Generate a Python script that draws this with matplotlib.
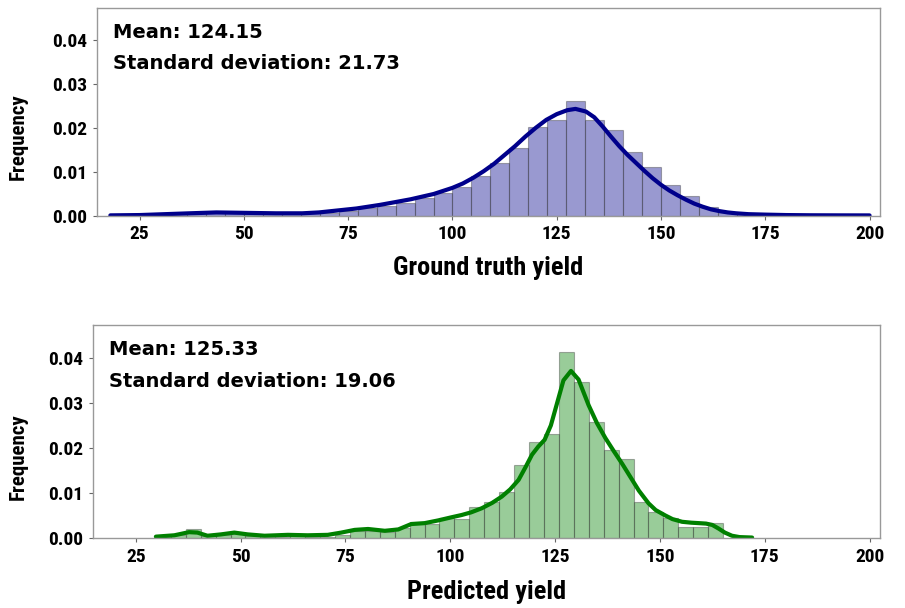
import numpy as np
import matplotlib
matplotlib.use("Agg")
import matplotlib.pyplot as plt
from matplotlib import font_manager

# ---------------- data ----------------
truth_mean_text = "Mean: 124.15"
truth_std_text = "Standard deviation: 21.73"
pred_mean_text = "Mean: 125.33"
pred_std_text = "Standard deviation: 19.06"

truth_xlabel = "Ground truth yield"
pred_xlabel = "Predicted yield"
ylabel = "Frequency"

x_ticks = [25, 50, 75, 100, 125, 150, 175, 200]
y_ticks = [0.00, 0.01, 0.02, 0.03, 0.04]

# Ground truth histogram (bin edges start / width, heights)
truth_bin_start = 18.3
truth_bin_width = 4.54
truth_heights = [0.0001, 0.0002, 0.0003, 0.0004, 0.0006, 0.0008, 0.0008, 0.0006,
                 0.0005, 0.0004, 0.0005, 0.0006, 0.0011, 0.0016, 0.0022, 0.0029,
                 0.0039, 0.0051, 0.0066, 0.0089, 0.0120, 0.0154, 0.0201, 0.0217,
                 0.0261, 0.0217, 0.0195, 0.0145, 0.0111, 0.0069, 0.0045, 0.0020,
                 0.0009, 0.0004, 0.0002, 0.0001, 0.0001, 0.00005, 0.00003, 0.00003]

# Ground truth KDE curve points
truth_kde_x = [18, 25, 31, 37, 43.4, 50.5, 57.7, 64, 68, 73, 77, 82.5, 86, 90,
               95.5, 100, 102.5, 105, 107.5, 110, 112.5, 115, 117.5, 120, 122.5,
               125, 127.5, 129.5, 132, 134, 136, 138, 140, 142, 144, 146, 148, 150,
               152, 154, 156, 158, 160, 162, 164, 166, 168, 171, 175, 180, 186, 193, 200]
truth_kde_y = [0.00003, 0.0001, 0.0003, 0.0005, 0.0007, 0.0006, 0.0005, 0.0005, 0.0007,
               0.0012, 0.0016, 0.0024, 0.0030, 0.0037, 0.0049, 0.0063, 0.0073, 0.0086,
               0.0101, 0.0118, 0.0138, 0.0158, 0.0180, 0.0200, 0.0218, 0.0231, 0.0240,
               0.0243, 0.0237, 0.0224, 0.0203, 0.0180, 0.0158, 0.0138, 0.0120, 0.0102,
               0.0085, 0.0070, 0.0057, 0.0046, 0.0036, 0.0027, 0.0020, 0.0014, 0.0010,
               0.0007, 0.0005, 0.0003, 0.0002, 0.0001, 0.00005, 0.00003, 0.00002]

# Predicted histogram
pred_bin_start = 29.8
pred_bin_width = 3.56
pred_heights = [0.0002, 0.0006, 0.0020, 0.0004, 0.0006, 0.0009, 0.0004, 0.0003,
                0.0003, 0.0004, 0.0003, 0.0003, 0.0006, 0.0015, 0.0016, 0.0013,
                0.0022, 0.0036, 0.0031, 0.0044, 0.0042, 0.0068, 0.0080, 0.0103,
                0.0163, 0.0213, 0.0231, 0.0414, 0.0347, 0.0257, 0.0196, 0.0176,
                0.0080, 0.0057, 0.0044, 0.0025, 0.0025, 0.0033]

# Predicted KDE curve points
pred_kde_x = [29.8, 34.2, 37.7, 39.7, 42.1, 45.3, 48.5, 51.7, 55.7, 61.3, 66.0,
              70.8, 74.0, 77.2, 80.4, 84.4, 87.6, 90.7, 93.9, 97.1, 100.3, 102.7,
              105, 107.5, 110, 112.3, 114.3, 116.3, 118, 119.5, 121, 122.5, 124,
              125.5, 127, 128.8, 130.6, 133, 135, 137, 139, 141, 143, 145, 147.3,
              149, 151.3, 153, 155.3, 157.5, 159.3, 161, 162.5, 164, 165.5, 167.2,
              169, 172.0]
pred_kde_y = [0.0003, 0.0006, 0.0013, 0.0012, 0.0005, 0.0008, 0.0012, 0.0008, 0.0005,
              0.0007, 0.0006, 0.0007, 0.0012, 0.0018, 0.0020, 0.0016, 0.0019, 0.0031,
              0.0033, 0.0039, 0.0046, 0.0051, 0.0057, 0.0066, 0.0078, 0.0092, 0.0108,
              0.0129, 0.0158, 0.0185, 0.0203, 0.0218, 0.0250, 0.0300, 0.0350, 0.0371,
              0.0352, 0.0295, 0.0255, 0.0222, 0.0193, 0.0165, 0.0135, 0.0105, 0.0077,
              0.0062, 0.0050, 0.0042, 0.0036, 0.0034, 0.0033, 0.0032, 0.0029, 0.0021,
              0.0012, 0.0005, 0.0002, 0.0001]

# ---------------- styling ----------------
available = {f.name for f in font_manager.fontManager.ttflist}
narrow_candidates = ["Roboto Condensed", "Liberation Sans Narrow", "Open Sans Condensed"]
narrow = next((n for n in narrow_candidates if n in available), "DejaVu Sans")
wide = "DejaVu Sans"

fig = plt.figure(figsize=(9.05, 6.08), dpi=100)
W, H = 905, 608

def make_axes(left, top, right, bottom):
    return fig.add_axes([left / W, 1 - bottom / H, (right - left) / W, (bottom - top) / H])

ax1 = make_axes(97, 8, 880, 215.5)
ax2 = make_axes(93, 325, 880, 538)

panels = [
    (ax1, truth_bin_start, truth_bin_width, truth_heights, truth_kde_x, truth_kde_y,
     "#00008B", truth_mean_text, truth_std_text, truth_xlabel, (97, 8, 880, 215.5)),
    (ax2, pred_bin_start, pred_bin_width, pred_heights, pred_kde_x, pred_kde_y,
     "#008000", pred_mean_text, pred_std_text, pred_xlabel, (93, 325, 880, 538)),
]

for ax, b0, bw, hts, kx, ky, col, t1, t2, xl, box in panels:
    left, top, right, bottom = box
    edges = b0 + bw * np.arange(len(hts))
    ax.bar(edges, hts, width=bw, align="edge", color=col, alpha=0.4,
           edgecolor="#3a3a3a", linewidth=0.8)
    ax.plot(kx, ky, color=col, linewidth=3.0, solid_capstyle="round",
            solid_joinstyle="round")
    ax.set_xlim(14.8, 202.5)
    ax.set_ylim(0, 0.0473)
    ax.set_xticks(x_ticks)
    ax.set_yticks(y_ticks)
    ax.set_yticklabels([f"{v:.2f}" for v in y_ticks])
    for lab in ax.get_xticklabels() + ax.get_yticklabels():
        lab.set_fontfamily(narrow)
        lab.set_fontweight("bold")
        lab.set_fontsize(14)
    ax.tick_params(axis="both", length=3, width=0.8, color="#666666", pad=4)
    for s in ax.spines.values():
        s.set_color("#999999")
        s.set_linewidth(1.0)
    ax.set_ylabel(ylabel, fontfamily=narrow, fontweight="bold", fontsize=15, va="center")
    ax.yaxis.set_label_coords((18 - left) / (right - left), 0.38)
    ax.set_xlabel(xl, fontfamily=narrow, fontweight="bold", fontsize=19, va="center")
    ax.xaxis.set_label_coords(0.5, -0.253)
    ax.text(0.02, 0.93, t1, transform=ax.transAxes, fontfamily=wide, fontweight="bold",
            fontsize=14, va="top", ha="left")
    ax.text(0.02, 0.78, t2, transform=ax.transAxes, fontfamily=wide, fontweight="bold",
            fontsize=14, va="top", ha="left")

fig.savefig("out.png", dpi=100)
